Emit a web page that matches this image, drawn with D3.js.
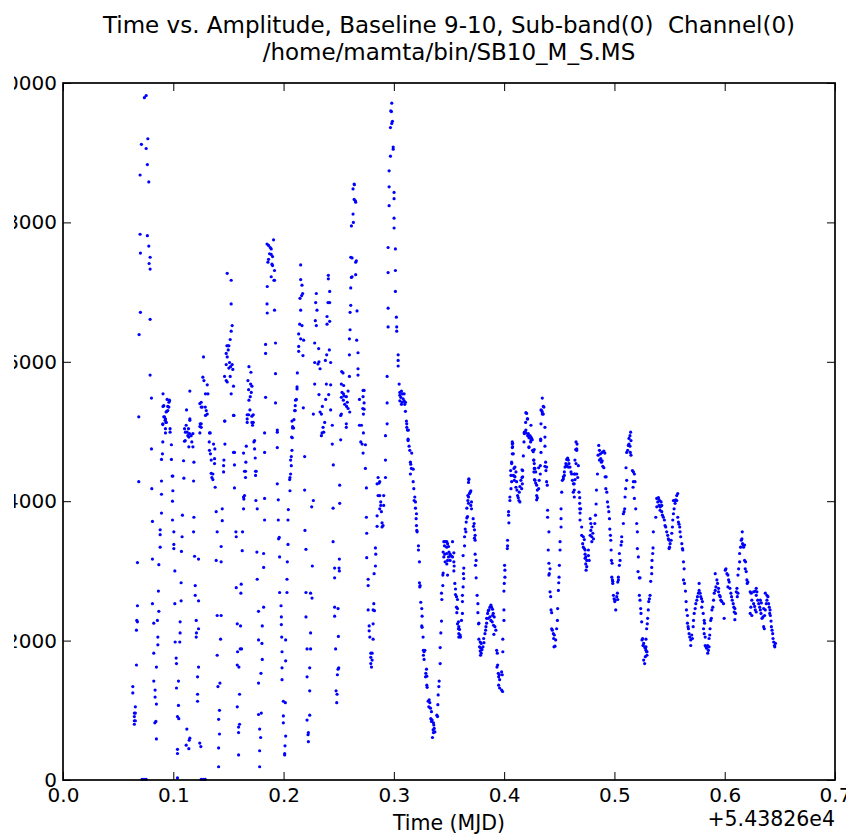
<!DOCTYPE html>
<html><head><meta charset="utf-8">
<script src="https://cdn.jsdelivr.net/npm/d3@7/dist/d3.min.js"></script>
<style>body{margin:0;background:#fff}svg{display:block}text{font-family:"DejaVu Sans",sans-serif;white-space:pre}</style>
</head><body><svg id="c" width="846" height="836"></svg>
<script>
const titleLines = ["Time vs. Amplitude, Baseline 9-10, Sub-band(0)  Channel(0)", "/home/mamta/bin/SB10_M_S.MS"];
const xLabel = "Time (MJD)";
const xOffsetLabel = "+5.43826e4";
const xTicks = [0, 0.1, 0.2, 0.3, 0.4, 0.5, 0.6, 0.7];
const yTicks = [0, 2000, 4000, 6000, 8000, 10000];

// [time offset (MJD - 54382.6), amplitude]
const earlyPts = [
[.0633,1340],[.0633,1250],[.0647,960],[.0647,910],[.0647,850],[.0647,800],[.0656,1050],[.0656,960],[.0656,850],[.0666,1650],[.0666,2150],[.0669,2290],[.0675,2270],[.0675,2500],[.0675,3120],[.0687,4280],[.0687,5210],[.069,6390],[.0702,6710],[.0702,7560],[.0699,7830],[.0699,8680],[.0711,9120],[.0738,9790],[.0754,9820],[.0754,9060],[.0769,9200],[.0765,8830],[.0778,8580],[.0765,7810],[.0778,7660],[.079,7500],[.0781,7410],[.079,7330],[.079,6610],[.079,5810],[.0802,5480],
[.0717,10],[.0735,10],[.0754,10],[.1253,10],[.1272,10],[.129,10],
[.0802,4750],[.0805,4180],[.0811,3710],[.0811,3170],[.0811,2530],[.0823,2250],[.0823,1820],[.0823,1420],[.0835,1290],[.0835,1190],[.0842,840],[.0833,820],[.0847,590],[.0847,1090],[.0847,1620],[.086,2050],[.086,1940],[.0856,2290],[.0869,2420],[.0865,2710],[.0869,3090],[.0881,3340],[.0881,3520],[.0881,3590],[.0893,3830],[.0893,4100],[.0893,4290],[.0893,4600],[.0902,4680],[.0905,4850],[.0905,5100],[.0914,5370],[.092,5210],[.0926,5160],[.0929,5040],[.0929,4980],[.0935,5280],[.0935,5130],[.095,5300],[.096,5420],[.0965,5450],[.0971,5040],[.0971,4990],[.0983,4810],[.0983,4600],[.099,4360],[.0996,4360],[.0996,4150],[.0993,4000],[.0993,3730],[.1005,3560],[.1005,3380],[.1005,3320],[.1014,3000],[.1014,2530],[.1017,1980],[.1059,1980],[.1062,2110],[.1062,2270],[.1071,2570],[.1071,2830],[.1026,1750],[.1029,1670],[.1029,1320],[.1047,1420],[.1047,1070],[.1038,910],[.105,880],[.1038,440],[.1038,380],[.1038,30],
[.0907,5540],[.0944,5460],[.0965,5440],[.0907,5360],[.095,5360],[.096,5350],[.0941,5290],[.0914,5210],[.0929,5180],[.0905,5110],[.0935,5130],
[.1074,3280],[.108,3490],[.1083,3800],[.1096,4330],[.1093,4580],[.1108,4870],[.111,4990],[.1102,5040],[.1117,5090],[.1126,4990],[.1132,4940],[.1147,4970],[.1162,4940],[.112,5310],[.115,5180],[.115,5160],[.1138,5040],[.1102,4860],[.1141,4920],[.1178,4970],[.1168,4850],[.1141,4780],[.1178,4780],[.1187,4560],[.1184,4290],[.1187,3770],[.1184,3560],[.1193,3210],[.1229,3170],[.1199,2790],[.1199,2650],[.1229,2570],[.1208,2290],[.1229,2170],[.121,2110],[.1208,2050],[.1229,1620],[.122,1480],[.122,1230],[.122,1130],[.1123,730],[.115,600],[.1144,570],[.1117,500],[.1141,450],[.124,530],[.125,480],[.115,5580],
[.1241,5400],[.1253,5350],[.1241,5070],[.1253,5110],[.1241,4980],[.129,5350],[.1299,5300],[.1308,5250],[.1292,5230],[.1328,4980],[.1335,4980],[.1326,4850],[.1365,4820],[.1328,4730],[.1337,4680],[.1344,4590],[.1377,4750],[.1344,4400],[.1359,4390],[.135,4340],[.1359,4310],[.1374,4610],[.1374,4540],[.138,4200],[.1389,3850],[.1398,3560],[.1389,3150],[.1434,3130],[.1434,3350],[.1444,3720],[.1444,3890],[.1459,4590],[.1456,4510],[.1456,4420],[.1468,4820],[.1468,5150],[.1398,2360],[.1434,2360],[.1398,1790],[.1405,1340],[.1423,1390],[.1429,2020],[.1419,1000],[.1411,870],[.1419,660],[.1411,460],[.1411,190],
[.1274,6070],[.1268,5780],[.1278,5730],[.1308,5670],[.1292,5540],[.1314,5540],[.1253,5420],[.1262,5350],[.1244,5110],[.1253,5060],
[.1489,7270],[.1525,7170],[.1525,6830],[.1534,6520],[.1525,6440],[.1516,6320],[.1486,6230],[.1495,6230],[.1504,6230],[.1498,6170],[.148,6120],[.1489,6070],[.151,5990],[.148,5960],[.1519,5930],[.1504,5910],[.1534,5960],[.154,5890],[.1465,5790],[.1516,5790],[.148,5730],[.1489,5710],[.1546,5650],[.1525,5540],[.1465,5150],[.1546,5230],
[.1555,4700],[.1546,4700],[.155,5230],[.1555,4190],[.1568,3560],[.1571,3490],[.1555,4520],[.1571,2760],[.1616,2810],[.1628,3560],[.1625,3290],[.1613,2680],[.158,2240],[.161,2210],[.1619,1880],[.1607,1880],[.1583,1840],[.158,1650],[.1595,1620],[.1601,1230],[.158,1050],[.1601,800],[.1592,760],[.1592,680],[.1592,360],
[.1655,4340],[.1655,4430],[.1646,4430],[.1658,4560],[.1662,4790],[.1637,4690],[.1637,4060],[.1646,4080],[.164,4030],[.1637,3890],
[.1686,5930],[.1704,5850],[.1677,5730],[.1701,5680],[.1713,5650],[.1683,5600],[.1707,5560],[.1698,5500],[.1686,5450],[.1695,5310],[.167,5240],[.1683,5240],[.1725,5240],[.1713,5220],[.167,5180],[.167,5130],[.1713,5130],[.1725,5130],[.1719,5090],
[.1737,4870],[.1731,4850],[.1737,4750],[.1743,4620],[.1746,4430],[.1752,4430],[.1746,4370],[.1749,4010],[.1761,3890],[.1758,3270],[.1761,2880],[.1819,3250],[.1819,3050],[.1773,2420],[.1819,2480],[.1773,2010],[.1804,1960],[.1807,2210],[.1807,1730],[.1795,1530],[.1773,1390],[.1773,940],[.1798,960],[.1783,730],[.1792,610],[.1783,420],[.1783,190],[.1828,4980],[.1828,4700],[.1828,4040],[.1828,3730],
[.185,7690],[.1864,7670],[.1909,7750],[.1879,7640],[.1888,7620],[.1873,7550],[.1888,7540],[.19,7510],[.1864,7470],[.1858,7430],[.1895,7400],[.19,7380],[.1918,7310],[.1888,7220],[.1913,7170],[.1918,7170],[.1852,7080],[.185,6830],[.1852,6700],[.1918,6740],[.1837,6250],[.1837,6120],[.1927,6270],[.1927,5830],[.1837,5490],[.1927,5410],[.1943,5020],
[.1943,4990],[.1943,4770],[.1943,4250],[.1952,4020],[.1952,3730],[.1961,3480],[.1955,3460],[.1964,3200]
];
const midPts = [
[.2034,3130],[.204,3730],[.204,3380],[.2043,3880],[.2058,4150],[.2055,4310],[.2058,4340],[.2064,4390],[.207,4510],[.2064,4590],[.207,4640],[.2076,4730],[.2073,4920],[.2082,5050],[.2082,5070],[.2076,5150],
[.1964,2690],[.2031,2690],[.2031,2880],[.1977,2500],[.198,2340],[.198,2230],[.1983,2050],[.2019,2010],[.1986,1840],[.2019,1710],[.1986,1610],[.1986,1440],[.1998,1130],[.2016,1110],[.1998,920],[.1998,820],[.2019,630],[.2013,490],[.201,380],[.201,360],
[.2109,5450],[.2106,5300],[.2094,5170],[.2091,5050],[.2079,4910],
[.2155,7390],[.2155,7180],[.2167,7100],[.2173,6980],[.2164,6950],[.2149,6910],[.2155,6740],[.2146,6540],[.2167,6520],[.2137,6400],[.2155,6330],[.2137,6220],[.2182,6310],[.2137,6150],[.2176,6090],[.2125,5840],[.2122,5640],[.2122,5610],[.2116,5460],[.2106,5370],[.21,5300],[.2179,5340],
[.2191,4640],[.2191,4160],[.227,4010],[.2255,3920],[.2194,3580],[.2203,3310],[.2261,3070],[.2203,2690],[.2245,2680],[.2258,2610],[.2203,2340],[.2245,2110],[.2213,1880],[.2245,1880],[.2237,1610],[.2213,1480],[.2237,1280],[.2213,860],[.2237,930],[.2225,680],[.2222,650],[.2225,550],[.227,5250],
[.2297,6980],[.2291,6850],[.2303,6740],[.2288,6590],[.2297,6520],[.2282,6270],[.2318,6190],[.2282,5990],[.2321,6000],[.2312,5970],[.2331,5900],[.2282,5680],[.2321,5530],[.2331,5280],[.2343,5250],[.2358,5060],[.2349,4980],[.2343,4940],[.2364,4990],[.2373,5130],
[.2406,7240],[.2406,7190],[.2418,7010],[.2403,6850],[.2418,6850],[.2394,6650],[.2418,6580],[.2394,6540],[.2391,6100],[.2415,6170],[.2379,6020],[.2427,5990],[.2388,5680],[.2427,5670],[.2409,5530],[.2382,5460],[.2427,5310],[.2352,5360],[.2442,5090],[.2442,4820],[.2451,4520],[.2449,3900],[.2449,3420],[.2463,3040],[.2463,2900],[.2503,3040],[.2506,3000],[.2506,3170],[.2509,3970],[.2509,4230],[.2518,4880],[.2518,5230],
[.2463,2480],[.2494,2460],[.2463,2350],[.2497,2060],[.2472,1880],[.25,1610],[.2494,1590],[.2488,1510],[.2476,1280],[.2485,1230],[.2482,1110],
[.2527,5860],[.2539,5840],[.2524,5680],[.2545,5660],[.253,5560],[.2585,5580],[.2524,5490],[.2542,5450],[.2569,5500],[.2578,5420],[.2572,5360],[.2585,5330],[.26,5280],[.2524,5250],[.2569,5110],[.2569,5060],[.2548,5510],[.2554,5390],[.2543,5540],
[.2615,7950],[.2609,7500],[.2615,7210],[.2609,7060],[.2609,6810],[.2603,6710],[.2603,6460],[.2597,6330],[.2597,6100],[.2597,5790],[.2621,7220],[.2654,7250],[.2621,7490],[.266,7450],[.2654,7430],[.2633,8000],[.263,8120],[.264,8330],[.2651,8310],[.2654,8290],[.263,8480],[.264,8550],[.2642,8540],[.2663,6310],[.2666,6730],[.2675,6130],[.2675,5900],[.2675,5810],[.2688,5460],[.2721,5590],[.273,5590],[.2721,5500],[.273,5410],[.2718,5330],[.273,5320],[.2724,5250],[.2688,5090],[.2706,5090],
[.2724,4980],[.27,4850],[.2712,4820],[.2742,4810],[.2721,4690],[.2742,4470],
[.2751,4190],[.2751,3770],[.2754,3540],[.2833,3330],[.2836,3240],[.2754,3190],[.2833,3070],[.2821,2960],[.2767,2880],[.2767,2790],[.2818,2530],[.2812,2440],[.2824,2430],[.2767,2440],[.2776,2210],[.2776,2140],[.2812,2240],[.2782,2050],[.2812,2020],[.2791,1820],[.2803,1820],[.2791,1760],[.2803,1720],[.2791,1670],[.2797,1620],
[.2857,4340],[.2866,4260],[.2848,4250],[.2872,4280],[.2857,4080],[.2872,4080],[.2908,4080],[.2881,3990],[.2881,3940],[.2908,3940],[.2872,3890],[.2887,3850],[.2848,3790],[.2893,3690],[.2902,3650],[.2893,3630],[.2848,3640],
[.2924,4940],[.2924,4590],[.2924,4340],[.2939,5410],[.2939,5110],[.2939,5790],
[.2981,9710],[.2972,9600],[.2978,9590],[.2987,9450],[.2981,9420],[.2969,9360],[.2994,9080],[.2994,9050],[.2969,8950],[.2957,8740],[.2957,8510],[.3002,8430],[.3002,8340],[.2957,8240],[.3002,8060],[.3002,7920],[.2948,7640],[.3014,7620],[.2948,7280],[.3014,7310],[.3014,7010],[.2948,6770],[.3023,6640],[.2948,6500],[.3026,6500],[.3026,6440],[.3039,6100],[.3039,6020],[.3039,5940],[.3048,5680],[.3054,5560],[.3069,5580],[.3078,5540],[.3093,5540],[.3054,5520],[.3063,5490],[.3084,5470],[.3054,5440],[.3075,5420],[.3093,5440],[.3105,5420],[.3069,5390],[.3099,5390],[.3105,5290],[.3114,5150],[.3117,5110],[.3117,5060]
];
const dipPts = [
[.3123,5020],[.3132,5020],[.3129,4890],[.3129,4870],[.3138,4790],[.3144,4730],[.3162,4690],[.315,4560],[.3153,4530],[.3159,4470],[.3175,4460],[.315,4390],[.3175,4280],[.3181,4180],[.319,4060],[.3184,4010],[.3196,3990],[.3196,3900],[.3205,3820],[.3202,3750],[.3205,3650],[.3208,3580],[.3211,3560],[.3223,3360],[.3223,3300],[.3232,3130],[.3232,2830],[.3238,2790],[.3235,2770],[.3244,2550],[.3253,2460],[.3256,2350],[.3253,2210],[.3256,2190],[.3265,2050],[.3268,1860],[.3274,1840],[.3281,1860],[.3268,1790],[.3274,1730],[.3296,1590],[.329,1530],[.3287,1480],[.3299,1490],[.3299,1360],[.3302,1330],[.3311,1130],[.3326,1110],[.332,1150],[.3317,1050],[.3332,1030],[.3341,980],[.3335,880],[.3347,860],[.3341,840],[.3359,820],[.3362,790],[.3366,740],[.3372,690],[.3356,720],[.3359,680],[.335,610],
[.3396,910],[.339,930],[.3399,1080],[.3402,1220],[.3408,1340],[.3411,1420],[.342,1670],[.342,1900],[.3426,2110],[.3432,2280],[.3435,2590],[.3432,2680],[.3444,2790],[.3444,2940],[.3447,2970],[.3453,3420],[.3465,3420],[.348,3420],[.3487,3390],[.3459,3360],[.348,3340],[.3496,3350],[.3447,3270],[.3462,3240],[.348,3250],[.35,3270],[.351,3240],[.3453,3200],[.3496,3200],[.3514,3220],[.3523,3210],[.3465,3130],[.348,3100],[.3487,3150],[.351,3150],[.3532,3200],[.3487,2940],[.3532,3420],[.3544,3260],[.3544,3130],[.3547,3070],[.3544,3000],
[.3553,2820],[.3559,2740],[.3568,2630],[.3577,2590],[.3559,2660],[.3568,2480],[.3577,2460],[.3571,2400],[.3586,2270],[.3577,2240],[.3589,2200],[.3586,2170],[.3595,2160],[.3589,2100],[.3601,2080],[.3589,2050],[.3604,2050],
[.3613,2290],[.3622,2390],[.3622,2560],[.3622,2650],[.3628,2770],[.3634,2890],[.3631,2960],[.3634,3040],[.3628,3220],[.3641,3360],[.3641,3490],[.3653,3560],[.3647,3600],[.3656,3700],[.3662,3760],[.3668,3780],[.3662,3900],[.3677,3970],[.3671,4010],[.3677,4060],[.3671,4080],[.3686,4110],[.3692,4130],[.3698,4150],[.368,4310],[.3677,4270],[.368,4320],
[.3704,3990],[.3704,3890],[.3698,3940],[.3719,3750],[.3728,3680],[.3722,3640],[.3731,3590],[.3737,3510],[.3731,3470],[.3737,3440],[.3737,3240],[.3746,3150],[.374,3080],[.3746,2900],[.3755,2650],[.3762,2530],[.3762,2400],[.3771,2250],[.3768,2240],[.3771,2020],[.3783,1980],[.3792,1960],[.3777,1910],[.379,1890],[.3799,1870],[.3783,1850],[.3792,1820],[.3786,1790],
[.3808,1910],[.3817,1970],[.3814,2030],[.3826,2100],[.3832,2150],[.3835,2200],[.3841,2250],[.3841,2320],[.385,2390],[.3856,2430],[.3862,2440],[.3871,2480],[.388,2510],[.3886,2480],[.3895,2450],[.3901,2390],[.3895,2360],[.391,2340],[.3856,2320],[.3871,2340],[.388,2290],[.3892,2270],[.3904,2220],[.3916,2200],[.3925,2150],[.3907,2090],[.3932,1860],[.3938,1820],[.3941,1650],[.3935,1620],[.3947,1530],[.3956,1510],[.395,1480],[.3959,1440],[.3977,1550],[.3983,1510],[.395,1360],[.3959,1320],[.3977,1290],[.3986,1270],
[.3988,1840],[.3988,2020],[.3998,2290],[.3998,2440],[.3998,2710],[.4001,2820],[.4007,2910],[.4007,3010],[.4004,3080],[.4029,3320],[.4031,3360],[.4031,3440],[.4043,3690],[.404,3800],[.404,3850],[.4052,4010],[.4052,4060],[.4062,4180],[.4068,4280],[.4083,4370],[.4059,4440],[.4068,4560],[.4083,4680],[.4077,4780],[.4077,4830],[.4074,4850],[.4074,4820],[.4074,4770],[.4074,4680],[.4068,4540],
[.4098,4490],[.4107,4420],[.4098,4350],[.4092,4300],[.4113,4280],[.4107,4200],[.4116,4160],[.4122,4080],[.4128,4050],[.4134,4010],[.4143,3990],[.4137,4130],[.4143,4210],[.4159,4180],[.4165,4250],[.4152,4300],[.4168,4350],[.4089,4470],[.4062,4370],[.4092,4360],[.4162,4450],[.4162,4340],[.4174,4650],
[.4168,4440],[.418,4850],[.4183,4970],[.4189,4990],[.4197,5020],[.4195,5130],[.421,5180],[.4204,5260],[.4197,5270],[.4213,5180],[.4243,5090],[.4183,4990],[.4197,4980],[.4213,4940],[.4225,4910],[.4243,4880],[.4255,4880],
[.4219,4970],[.4234,4940],[.4243,4920],[.4249,4900],[.424,4850],[.4225,4780],[.4258,4730],[.4225,4770],[.4264,4710],[.4273,4740],[.427,4590],[.4273,4540],[.4267,4590],[.4279,4470],[.4286,4420],[.427,4420],[.4273,4470],[.4276,4310],[.4279,4300],[.4286,4260],[.4295,4230],[.4301,4160],[.4295,4080],[.4301,4050],[.4295,4020],
[.4313,4180],[.4318,4300],[.4328,4390],[.4328,4510],[.4313,4480],[.4334,4700],[.4331,4870],[.4331,4890],[.4334,5110],[.4346,5250],[.434,5300],[.4355,5360],[.4346,5480],[.4361,5350],[.4334,5310],[.4346,5280],[.4355,5250],[.437,5060],[.437,4920],[.437,4790],[.4376,4560],[.4385,4490],[.437,4500],[.4379,4440],[.4385,4280],[.4391,4230],
[.4394,3870],[.4394,3770],[.4406,3560],[.44,3300],[.4406,3110],[.4416,3030],[.4409,2960],[.4406,2940],[.4416,2700],[.4422,2630],[.4425,2440],[.4431,2400],[.4431,2170],[.4437,2150],[.4446,2100],[.4455,2080],[.4449,2030],[.4461,1920],[.4452,1910],
[.4467,2010],[.4476,2170],[.4483,2290],[.4485,2460],[.4492,2720],[.4495,2830],[.4498,2910],[.4501,3080],[.4507,3300],[.4507,3420],[.4516,3630],[.4516,3750],[.4516,3890],[.4522,4130],[.4528,4300],[.4537,4350],[.4546,4420],[.4552,4490],[.4537,4320],[.4546,4370],
[.456,4540],[.4567,4600],[.4576,4620],[.4582,4590],[.4588,4540],[.4597,4490],[.4606,4420],[.4612,4390],[.4619,4300],[.4628,4250],[.456,4500],[.4569,4510],[.4582,4490],[.4576,4600],
[.4636,4160],[.4642,4390],[.4652,4540],[.4658,4730],[.4661,4820],[.4642,4590],[.4649,4740],[.4658,4750],[.4652,4850],[.4673,4510],[.4636,4390],[.4658,4390],[.4667,4340],[.4643,4310],[.4635,4250],[.4627,4130],[.4636,4060]
];
const latePts = [
[.4679,4130],[.4685,4050],[.4685,3970],[.4685,3890],[.4694,3890],[.4688,3830],[.4688,3730],[.4703,3630],[.4703,3510],[.4718,3490],[.4727,3450],[.4712,3390],[.4718,3340],[.4727,3320],[.4734,3300],[.4734,3240],[.474,3200],[.4734,3180],[.4749,3150],[.474,3100],[.4749,3060],[.4743,3010],[.4764,3300],[.4764,3220],[.4771,3150],
[.478,3510],[.4795,3490],[.4786,3580],[.4795,3630],[.4804,3540],[.481,3460],[.478,3750],[.4786,3680],[.4795,3420],
[.4822,3680],[.4828,3800],[.4834,3960],[.4837,4160],[.4846,4390],[.4852,4660],[.4858,4800],[.4864,4730],[.4873,4680],[.4864,4590],[.4876,4610],[.4882,4560],[.4889,4580],[.4895,4500],[.4904,4480],[.4889,4700],[.4904,4720],[.4913,4690],
[.4916,4350],[.4925,4350],[.4922,4180],[.4931,4130],[.4937,3990],[.4943,3920],[.4949,3850],[.4955,3750],[.4958,3600],[.4964,3510],[.4967,3440],[.497,3300],[.4973,3150],[.4979,3110],[.4976,2910],[.4982,2870],[.4985,2820],[.4985,2850],[.4991,2650],[.4997,2600],[.5006,2580],[.5003,2560],[.5012,2440],
[.503,2590],[.5021,2630],[.5027,2680],[.503,2840],[.5036,2910],[.5036,2870],[.5045,3080],[.5051,3150],[.5045,3250],[.506,3370],[.5066,3420],[.5066,3490],[.5081,3680],[.5081,3820],[.5087,3850],[.5093,3890],[.5096,4060],[.5102,4180],[.5111,4300],[.5105,4480],
[.5111,4700],[.512,4730],[.5126,4800],[.5132,4820],[.5141,4790],[.5144,4700],[.515,4660],[.5132,4900],[.5141,4940],[.5147,4990],[.515,4870],
[.5163,4440],[.5172,4420],[.5181,4390],[.5172,4280],[.5187,4280],[.5169,4200],[.5181,4040],[.5193,3890],[.5202,3680],[.5208,3560],[.5208,3320],[.5217,3200],[.5214,2990],[.5232,2900],[.5226,2900],[.5226,2650],[.5232,2580],[.5238,2460],[.5241,2390],[.5247,2270],
[.5256,2030],[.525,2010],[.5265,1960],[.5259,1930],[.5274,1910],[.528,1890],[.5286,1860],[.5292,1840],[.5295,1790],[.5265,1720],[.5274,1670],[.528,1770],[.5295,1840],
[.5286,1910],[.5286,2020],[.5292,2170],[.5298,2240],[.5301,2320],[.5307,2440],[.5311,2560],[.5317,2600],[.5323,2650],[.5329,2850],[.5338,2960],[.5338,3050],[.5341,3150],[.5347,3250],[.535,3330],[.5353,3560],
[.5375,3770],[.5384,3920],[.5393,3990],[.5399,4040],[.5405,3940],[.5414,3920],[.5423,3930],[.5429,3940],[.5384,4040],[.5399,4050],[.5411,4010],[.5423,3990],[.5414,3870],[.5429,3850],[.5435,3800],
[.5444,3770],[.5453,3730],[.5459,3650],[.5465,3630],[.5474,3560],[.5483,3510],[.5489,3460],[.5496,3440],[.5505,3390],[.5499,3340],[.5496,3320],
[.5514,3440],[.552,3540],[.5526,3630],[.5529,3730],[.5535,3820],[.5541,3890],[.555,3970],[.5556,4020],[.5565,4080],[.5574,4110],[.5535,4010],[.555,4010],[.5565,4010],
[.5574,3770],[.558,3700],[.5586,3670],[.5592,3630],[.5595,3560],[.5601,3490],[.5611,3390],[.5617,3320],[.562,3300],[.5626,3130],[.5632,3030],[.5626,2870],[.5635,2820],[.5644,2710],[.565,2560],[.5653,2440],[.5662,2360],
[.5662,2250],[.5668,2200],[.5671,2170],[.5677,2100],[.5683,2050],[.5692,2010],[.5692,1930],[.5701,2080],[.5707,2030],
[.5714,2200],[.5717,2290],[.5723,2390],[.5732,2460],[.5738,2530],[.5747,2580],[.5753,2630],[.5762,2680],[.5768,2720],[.5768,2820],[.5777,2680],[.5783,2630],[.579,2600],[.5798,2560],[.5792,2480],
[.5805,2390],[.5814,2290],[.5817,2250],[.5808,2170],[.5814,2100],[.5823,2050],[.5823,1930],[.583,1910],[.5836,1890],[.5845,1930],[.5852,1860],[.5846,1820],[.5858,1910],
[.5858,2030],[.5864,2080],[.5867,2170],[.5873,2290],[.5879,2320],[.5884,2440],[.5892,2480],[.5899,2580],[.5905,2680],[.5914,2720],[.592,2770],[.5914,2960],
[.5929,2870],[.5935,2820],[.5944,2750],[.5944,2700],[.5953,2650],[.5959,2630],[.5965,2580],[.5974,2560],[.5989,2530],[.5995,2320],
[.6005,3010],[.6011,3030],[.602,2960],[.6029,2940],[.6035,2870],[.6041,2840],[.6029,2770],[.6047,2750],[.6056,2680],[.6062,2630],
[.6068,2580],[.6077,2530],[.6083,2480],[.6092,2460],[.6086,2410],[.6098,2390],[.6092,2300],
[.6105,2700],[.6114,2630],[.612,2680],[.6111,2750],[.612,2940],[.6126,3030],[.6135,3130],[.6135,3250],[.6144,3340],[.615,3440],[.6156,3460],[.6162,3390],[.6168,3370],[.6159,3560],
[.6171,3340],[.618,3370],[.618,3150],[.6189,3130],[.6186,3030],[.6195,2990],[.6201,2870],[.621,2840],[.6204,2820],
[.6231,2700],[.624,2680],[.6246,2580],[.6237,2480],[.6231,2390],[.6246,2360],[.6262,2530],[.6271,2490],[.6277,2440],[.6286,2410],[.6262,2700],[.6277,2710],[.6286,2750],[.6292,2700],[.6286,2650],
[.6299,2580],[.6308,2530],[.6317,2480],[.6323,2440],[.6329,2390],[.6338,2320],[.6347,2340],[.6353,2200],[.6359,2170],[.6323,2580],[.6332,2540],[.6353,2460],[.6368,2440],[.6362,2360],[.6377,2530],[.6383,2580],[.6368,2680],[.6383,2650],[.6392,2630],
[.6398,2530],[.6404,2480],[.6411,2440],[.6408,2390],[.6414,2360],[.642,2280],[.6423,2200],[.6429,2150],[.6435,2100],[.6438,2030],[.6444,1980],[.6451,1930],[.6454,1910],[.646,1960]
];

const svg = d3.select("#c");
const L = 63, R = 835, T = 83, B = 780;
const x = d3.scaleLinear().domain([0, 0.7]).range([L, R]);
const y = d3.scaleLinear().domain([0, 10000]).range([B, T]);
const FS = 20;

// the reference figure is cropped on its left side: y tick labels are cut at x≈14
svg.append("defs").append("clipPath").attr("id", "leftcrop")
  .append("rect").attr("x", 14).attr("y", 0).attr("width", 846).attr("height", 836);

// title
svg.append("g").selectAll("text").data(titleLines).join("text")
  .attr("x", (L + R) / 2).attr("y", (d, i) => 33 + i * 27)
  .attr("text-anchor", "middle").attr("font-size", 23).attr("xml:space", "preserve").text(d => d);

// points
const allPts = [].concat(earlyPts, midPts, dipPts, latePts);
svg.append("g").selectAll("circle").data(allPts).join("circle")
  .attr("cx", d => x(d[0])).attr("cy", d => y(d[1])).attr("r", 1.6)
  .attr("fill", "#0000ff");

// axes with inward ticks
const fmtX = d3.format(".1f");
const gx = svg.append("g").attr("transform", `translate(0,${B})`)
  .call(d3.axisBottom(x).tickValues(xTicks).tickFormat(fmtX).tickSizeInner(-8).tickSizeOuter(0).tickPadding(8));
const gxt = svg.append("g").attr("transform", `translate(0,${T})`)
  .call(d3.axisTop(x).tickValues(xTicks).tickFormat("").tickSizeInner(-8).tickSizeOuter(0));
const gy = svg.append("g").attr("clip-path", "url(#leftcrop)").append("g").attr("transform", `translate(${L},0)`)
  .call(d3.axisLeft(y).tickValues(yTicks).tickFormat(d3.format("d")).tickSizeInner(-8).tickSizeOuter(0).tickPadding(6));
const gyr = svg.append("g").attr("transform", `translate(${R},0)`)
  .call(d3.axisRight(y).tickValues(yTicks).tickFormat("").tickSizeInner(-8).tickSizeOuter(0));
[gx, gxt, gy, gyr].forEach(g => {
  g.select(".domain").remove();
  g.selectAll(".tick line").attr("stroke", "#000").attr("stroke-width", 1);
  g.selectAll("text").attr("font-size", FS).attr("font-family", "DejaVu Sans").attr("fill", "#000");
});

// frame
svg.append("rect").attr("x", L).attr("y", T).attr("width", R - L).attr("height", B - T)
  .attr("fill", "none").attr("stroke", "#000").attr("stroke-width", 1.7);

// labels
svg.append("text").attr("x", (L + R) / 2).attr("y", 830).attr("text-anchor", "middle")
  .attr("font-size", 20.5).text(xLabel);
svg.append("text").attr("x", R).attr("y", 826).attr("text-anchor", "end")
  .attr("font-size", 20.5).text(xOffsetLabel);
</script></body></html>
